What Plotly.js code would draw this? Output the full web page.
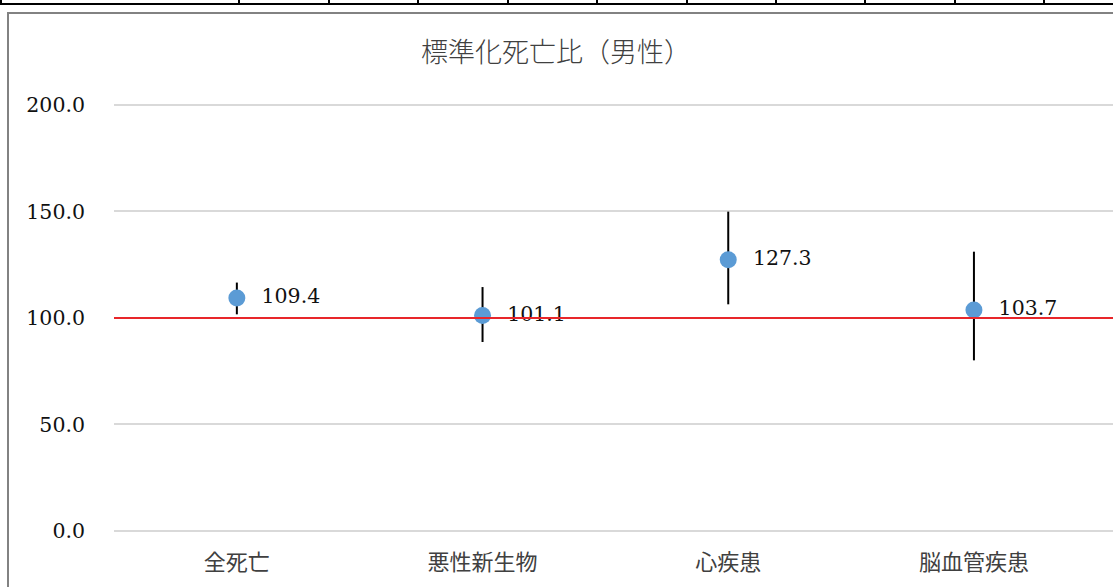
<!DOCTYPE html>
<html>
<head>
<meta charset="utf-8">
<script src="https://cdn.plot.ly/plotly-3.0.1.min.js"></script>
<style>
  html, body { margin:0; padding:0; background:#fff; width:1113px; height:587px; overflow:hidden; }
  #tableLine { position:absolute; left:0; top:3px; width:1113px; height:2px; background:#000; }
  .vcell { position:absolute; top:0; width:2px; height:5px; background:#000; }
  #frame { position:absolute; left:7px; top:12px; width:1200px; height:700px;
           border-left:2px solid #828282; border-top:2px solid #828282; }
  #chart { position:absolute; left:0; top:0; width:1113px; height:587px; }
</style>
</head>
<body>
<div id="tableLine"></div>
<div id="frame"></div>
<div id="chart"></div>
<script>
// ---- data ----
const categories = ["全死亡", "悪性新生物", "心疾患", "脳血管疾患"];
const smr        = [109.4, 101.1, 127.3, 103.7];
const upperCI    = [116.6, 114.5, 149.9, 131.1];
const lowerCI    = [101.7, 88.7, 106.4, 80.1];
const referenceValue = 100;
const yTickVals  = [0, 50, 100, 150, 200];
const yTickText  = ["0.0", "50.0", "100.0", "150.0", "200.0"];
const tableColumnX = [0, 238, 328, 417, 507, 596, 686, 775, 864, 954, 1043];

// decorative spreadsheet cell borders above the chart
tableColumnX.forEach(function (x) {
  const d = document.createElement("div");
  d.className = "vcell";
  d.style.left = x + "px";
  document.body.insertBefore(d, document.getElementById("chart"));
});

const trace = {
  type: "scatter",
  mode: "markers+text",
  x: categories,
  y: smr,
  text: smr.map(v => "\u00a0\u00a0" + v.toFixed(1)),
  textposition: "middle right",
  textfont: { family: "DejaVu Serif", size: 20.5, color: "#111" },
  marker: { color: "#5B9BD5", size: 17 },
  error_y: {
    type: "data",
    symmetric: false,
    array: upperCI.map((u, i) => u - smr[i]),
    arrayminus: lowerCI.map((l, i) => smr[i] - l),
    color: "#000",
    thickness: 2,
    width: 0
  },
  cliponaxis: false,
  hoverinfo: "skip"
};

const layout = {
  width: 1113,
  height: 587,
  margin: { l: 114, r: 0, t: 100, b: 56 },
  paper_bgcolor: "rgba(0,0,0,0)",
  plot_bgcolor: "rgba(0,0,0,0)",
  showlegend: false,
  title: {
    text: "標準化死亡比（男性）",
    font: { family: "Noto Sans CJK JP", size: 27, color: "#404040", weight: 300 },
    x: 556 / 1113, xref: "container", xanchor: "center",
    y: 1 - 53 / 587, yref: "container", yanchor: "middle"
  },
  xaxis: {
    type: "category",
    range: [-0.5, 3.566],
    showgrid: false,
    zeroline: false,
    showline: false,
    ticks: "",
    ticklabelstandoff: 16,
    tickfont: { family: "Noto Sans CJK JP", size: 22, color: "#404040" },
    fixedrange: true
  },
  yaxis: {
    range: [0, 202.3],
    tickvals: yTickVals,
    ticktext: yTickText,
    showgrid: true,
    gridcolor: "#d9d9d9",
    gridwidth: 2,
    zeroline: true,
    zerolinecolor: "#d9d9d9",
    zerolinewidth: 2,
    showline: false,
    ticks: "",
    ticklabelstandoff: 28,
    tickfont: { family: "DejaVu Serif", size: 20.5, color: "#111" },
    fixedrange: true
  },
  shapes: [{
    type: "line",
    xref: "paper", x0: 0, x1: 1,
    yref: "y", y0: referenceValue, y1: referenceValue,
    line: { color: "#E8262A", width: 2 },
    layer: "above"
  }]
};

Plotly.newPlot("chart", [trace], layout, { displayModeBar: false, staticPlot: true });
</script>
</body>
</html>
